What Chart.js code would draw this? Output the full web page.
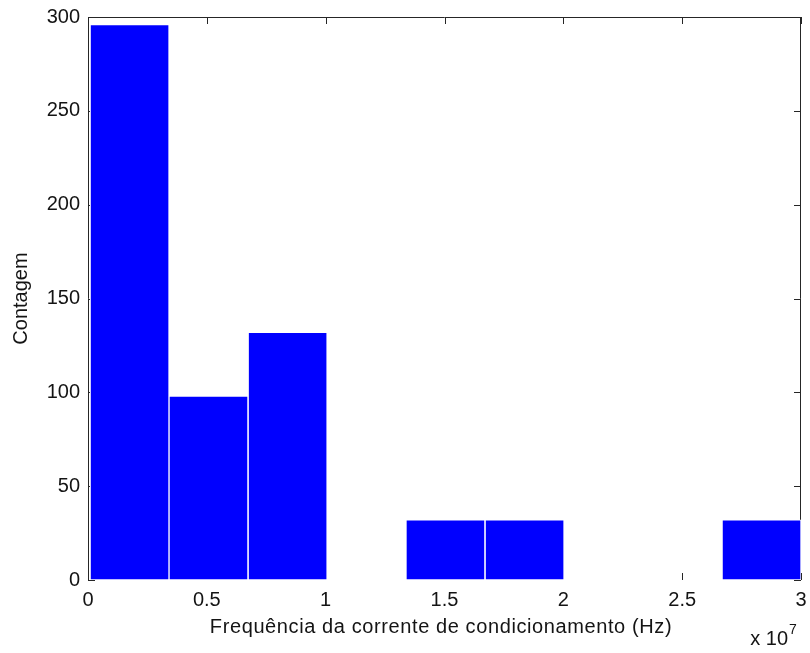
<!DOCTYPE html>
<html>
<head>
<meta charset="utf-8">
<script src="https://cdn.jsdelivr.net/npm/chart.js@4/dist/chart.umd.min.js"></script>
<style>
  html, body { margin: 0; padding: 0; background: #fff; }
  #wrap { width: 810px; height: 653px; position: relative; }
</style>
</head>
<body>
<div id="wrap"><canvas id="c"></canvas></div>
<script>
// Histogram bins (centres, in units of 1e7 Hz) and their counts
const binCenters = [0.175, 0.507, 0.840, 1.172, 1.504, 1.837, 2.169, 2.501, 2.834];
const counts     = [296, 98, 132, 0, 32, 32, 0, 0, 32];

// Axis ticks
const xTicks = [0, 0.5, 1, 1.5, 2, 2.5, 3];
const yTicks = [0, 50, 100, 150, 200, 250, 300];

const xTitle = 'Frequência da corrente de condicionamento (Hz)';
const yTitle = 'Contagem';
const xExponent = '7';

const FONT = '"Liberation Sans", Arial, sans-serif';
const TEXT = '#141414';
const AXIS = '#262626';
const TICK_LEN = 7;

// Box axes with inward ticks on all four sides (drawn under the bars)
const boxAxes = {
  id: 'boxAxes',
  beforeDatasetsDraw(chart) {
    const { ctx, chartArea: a, scales: { x, y } } = chart;
    ctx.save();
    ctx.strokeStyle = AXIS;
    ctx.lineWidth = 1;
    ctx.beginPath();
    // top, left, right edges
    ctx.moveTo(a.left + 0.5, a.bottom);
    ctx.lineTo(a.left + 0.5, a.top + 0.5);
    ctx.lineTo(a.right - 0.5, a.top + 0.5);
    ctx.lineTo(a.right - 0.5, a.bottom);
    xTicks.forEach(v => {
      const px = Math.round(x.getPixelForValue(v)) + 0.5;
      ctx.moveTo(px, a.top); ctx.lineTo(px, a.top + TICK_LEN);
      ctx.moveTo(px, a.bottom); ctx.lineTo(px, a.bottom - TICK_LEN);
    });
    yTicks.forEach(v => {
      const py = Math.round(y.getPixelForValue(v)) + 0.5;
      ctx.moveTo(a.left, py); ctx.lineTo(a.left + TICK_LEN, py);
      ctx.moveTo(a.right, py); ctx.lineTo(a.right - TICK_LEN, py);
    });
    ctx.stroke();
    ctx.restore();
  },
  afterDraw(chart) {
    const { ctx, chartArea: a } = chart;
    ctx.save();
    ctx.fillStyle = TEXT;
    ctx.textBaseline = 'alphabetic';

    // x-axis title, slightly tracked
    ctx.font = '20px ' + FONT;
    ctx.textAlign = 'center';
    ctx.letterSpacing = '0.6px';
    ctx.fillText(xTitle, 441, 633);
    ctx.letterSpacing = '0px';

    // exponent note under the right end of the x axis
    ctx.textAlign = 'right';
    ctx.fillText('x 10', 788, 645);
    ctx.font = '14px ' + FONT;
    ctx.textAlign = 'left';
    ctx.fillText(xExponent, 789, 634);
    ctx.restore();
  }
};

new Chart(document.getElementById('c'), {
  type: 'bar',
  data: {
    datasets: [{
      data: binCenters.map((c, i) => ({ x: c, y: counts[i] })),
      backgroundColor: '#0000ff',
      borderColor: '#ffffff',
      borderWidth: 1,
      borderSkipped: false,
      barPercentage: 1,
      categoryPercentage: 1
    }]
  },
  options: {
    responsive: true,
    maintainAspectRatio: false,
    animation: false,
    events: [],
    layout: { padding: { top: 17, right: 9, left: 0, bottom: 0 } },
    plugins: { legend: { display: false }, tooltip: { enabled: false } },
    scales: {
      x: {
        type: 'linear',
        offset: false,
        min: 0, max: 3,
        afterBuildTicks(s) { s.ticks = xTicks.map(v => ({ value: v })); },
        afterFit(s) { s.height = 73; s.paddingLeft = 0; s.paddingRight = 0; },
        grid: { display: false, drawTicks: false },
        border: { display: false },
        ticks: {
          padding: 8,
          color: TEXT,
          font: { family: FONT, size: 20 },
          maxRotation: 0,
          callback: v => String(v)
        },
        title: { display: false }
      },
      y: {
        min: 0, max: 300,
        afterBuildTicks(s) { s.ticks = yTicks.map(v => ({ value: v })); },
        afterFit(s) { s.width = 88; s.paddingTop = 0; s.paddingBottom = 0; },
        grid: { display: false, drawTicks: false },
        border: { display: false },
        ticks: {
          padding: 8,
          color: TEXT,
          font: { family: FONT, size: 20 }
        },
        title: {
          display: true, text: yTitle, color: TEXT,
          font: { family: FONT, size: 20 },
          padding: { top: 9, bottom: 0 }
        }
      }
    }
  },
  plugins: [boxAxes]
});
</script>
</body>
</html>
